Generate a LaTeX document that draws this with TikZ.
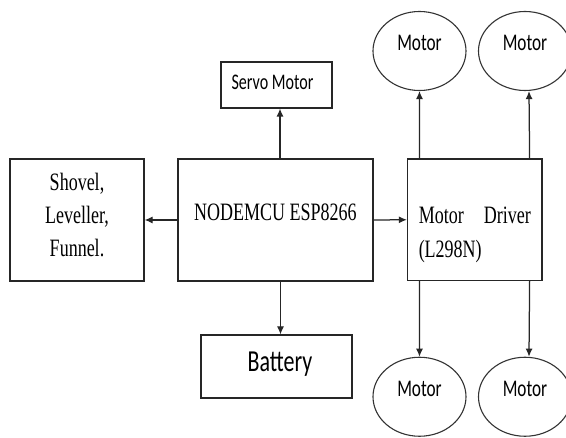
\documentclass[tikz,border=0pt]{standalone}
\usepackage{fontspec}
\setmainfont{Liberation Serif}[FakeStretch=0.72]
\newfontfamily\calibrifont{Carlito}[FakeStretch=0.72]
\usetikzlibrary{arrows.meta,shapes.geometric}
\tikzset{
  blk/.style={draw=black!85, line width=1.25pt, rectangle, inner sep=0pt},
  motorell/.style={draw=black!80, line width=1.1pt, ellipse, inner sep=0pt,
    minimum width=93pt, minimum height=79pt,
    font=\calibrifont\fontsize{23.9}{28}\selectfont, text height=10pt, text depth=10pt},
  arr/.style={draw=black!85, line width=1.25pt, -{Latex[length=8pt,width=7pt]}},
  serifbig/.style={font=\fontsize{25}{33}\selectfont}
}
\begin{document}
\begin{tikzpicture}[x=1pt,y=-1pt]
\useasboundingbox (0,0) rectangle (566,438);
\clip (0,0) rectangle (566,438);
\fill[white] (0,0) rectangle (566,438);
% boxes
\node[blk, serifbig, minimum width=134pt, minimum height=122pt, align=center] (tools) at (77,220)
  {Shovel,\\Leveller,\\Funnel.\rule[-11pt]{0pt}{11pt}};
\node[blk, serifbig, minimum width=195pt, minimum height=122pt, text height=12pt, text depth=10pt] (mcu) at (275.5,220)
  {NODEMCU ESP8266};
\node[blk, font=\fontsize{25}{34}\selectfont, minimum width=134.5pt, minimum height=121.5pt, text width=112pt, align=left] (drv) at (474.75,219.75)
  {\rule{0pt}{46pt}Motor\hfill Driver\\(L298N)};
\node[blk, minimum width=111pt, minimum height=46pt, font=\calibrifont\fontsize{22.3}{26}\selectfont, text height=20pt, text depth=10pt] (servo) at (276.5,85)
  {\hspace*{-8pt}Servo Motor};
\node[blk, minimum width=151pt, minimum height=63pt, font=\calibrifont\fontsize{30.5}{34}\selectfont, text height=21pt, text depth=10pt] (bat) at (276.5,366.5)
  {\hspace*{7pt}Battery};
% motors
\node[motorell] (m1) at (419.5,51) {Motor};
\node[motorell] (m2) at (525,51) {Motor};
\node[motorell] (m3) at (419.5,396.75) {Motor};
\node[motorell] (m4) at (525,396.75) {Motor};
% connectors
\draw[arr] (mcu.west) -- (tools.east);
\draw[arr] (mcu.east) -- (drv.west);
\draw[arr] ([xshift=4.5pt]mcu.north) -- ([xshift=4.5pt]mcu.north |- servo.south);
\draw[arr] ([xshift=5pt]mcu.south) -- ([xshift=5pt]mcu.south |- bat.north);
\draw[arr] ([xshift=12.5pt]drv.north west) -- (m1.south);
\draw[arr] ([xshift=-13pt]drv.north east) -- ([xshift=4pt]m2.south);
\draw[arr] ([xshift=12.5pt]drv.south west) -- (m3.north);
\draw[arr] ([xshift=-13pt]drv.south east) -- ([xshift=4pt]m4.north);
\end{tikzpicture}
\end{document}
